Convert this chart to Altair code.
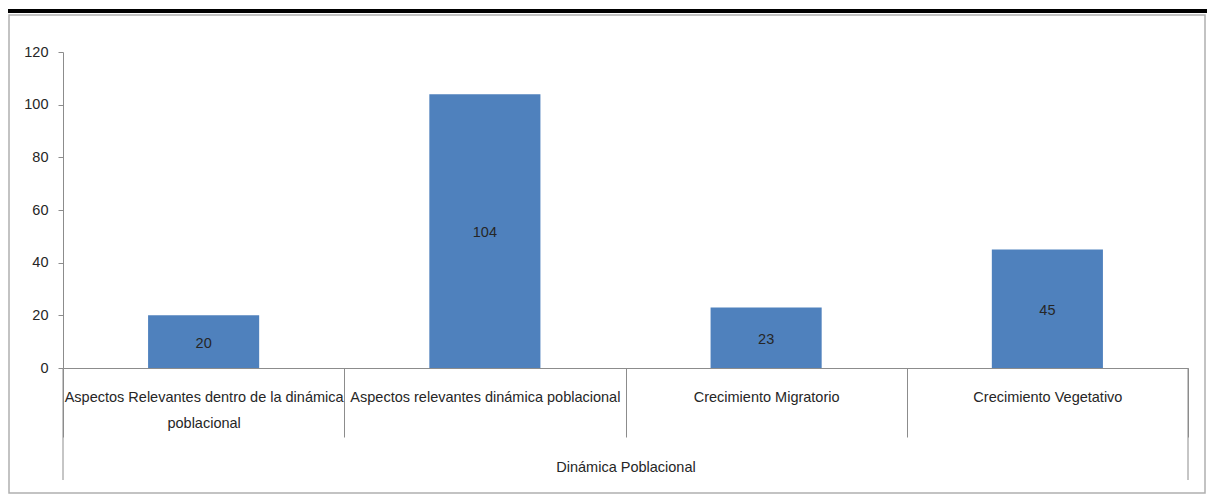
import altair as alt
import pandas as pd

categories = [
    "Aspectos Relevantes dentro de la dinámica\npoblacional",
    "Aspectos relevantes dinámica poblacional",
    "Crecimiento Migratorio",
    "Crecimiento Vegetativo",
]
values = [20, 104, 23, 45]
y_ticks = [0, 20, 40, 60, 80, 100, 120]
group_label = "Dinámica Poblacional"

FONT = "Liberation Sans"
GRAY = "#8c8c8c"
TEXT = "#262626"
BLUE = "#4F81BD"
FS = 14.5

df = pd.DataFrame({"cat": categories, "value": values})
one = pd.DataFrame({"a": [0]})

x_enc = alt.X(
    "cat:N",
    sort=categories,
    scale=alt.Scale(paddingInner=0, paddingOuter=0),
    axis=alt.Axis(
        tickBand="extent",
        tickSize=69,
        tickColor=GRAY,
        domainColor=GRAY,
        labelAngle=0,
        labelPadding=-47,
        labelExpr="split(datum.label, '\\n')",
        labelLineHeight=26,
        labelFont=FONT,
        labelFontSize=FS,
        labelColor=TEXT,
        labelLimit=400,
        grid=False,
        titleFont=FONT,
        titleFontSize=FS,
        titleFontWeight="normal",
        titleColor=TEXT,
        titleY=99,
        titleBaseline="middle",
    ),
    title=group_label,
)
y_enc = alt.Y(
    "value:Q",
    scale=alt.Scale(domain=[0, 120], nice=False),
    axis=alt.Axis(
        values=y_ticks,
        grid=False,
        tickSize=5,
        tickColor=GRAY,
        domainColor=GRAY,
        labelFont=FONT,
        labelFontSize=FS,
        labelColor=TEXT,
        labelPadding=10,
        title=None,
    ),
)

bars = alt.Chart(df).mark_bar(width=alt.RelativeBandSize(0.395), color=BLUE).encode(
    x=x_enc, y=y_enc
)

labels = (
    alt.Chart(df)
    .transform_calculate(mid="datum.value / 2")
    .mark_text(font=FONT, fontSize=FS, color=TEXT, align="center", baseline="middle", dy=2)
    .encode(x=alt.X("cat:N", sort=categories), y=alt.Y("mid:Q"), text=alt.Text("value:Q"))
)

border = alt.Chart(one).mark_rect(fillOpacity=0, stroke="#b0b0b0", strokeWidth=1.5).encode(
    x=alt.value(-54), x2=alt.value(1142), y=alt.value(-37), y2=alt.value(441)
)
top_line = alt.Chart(one).mark_rule(color="#000000", strokeWidth=4).encode(
    x=alt.value(-55), x2=alt.value(1144), y=alt.value(-41)
)
outer_left = alt.Chart(one).mark_rule(color=GRAY, strokeWidth=1).encode(
    x=alt.value(0), y=alt.value(316), y2=alt.value(428)
)
outer_right = alt.Chart(one).mark_rule(color=GRAY, strokeWidth=1).encode(
    x=alt.value(1125), y=alt.value(316), y2=alt.value(428)
)

chart = (
    alt.layer(border, top_line, bars, labels, outer_left, outer_right)
    .properties(
        width=1125,
        height=316,
        padding={"left": 55, "top": 44, "right": 19, "bottom": 127},
        autosize=alt.AutoSizeParams(type="none"),
        background="white",
    )
    .configure_view(strokeWidth=0)
)

chart.save("out.html", embed_options={"renderer": "svg", "actions": False})
